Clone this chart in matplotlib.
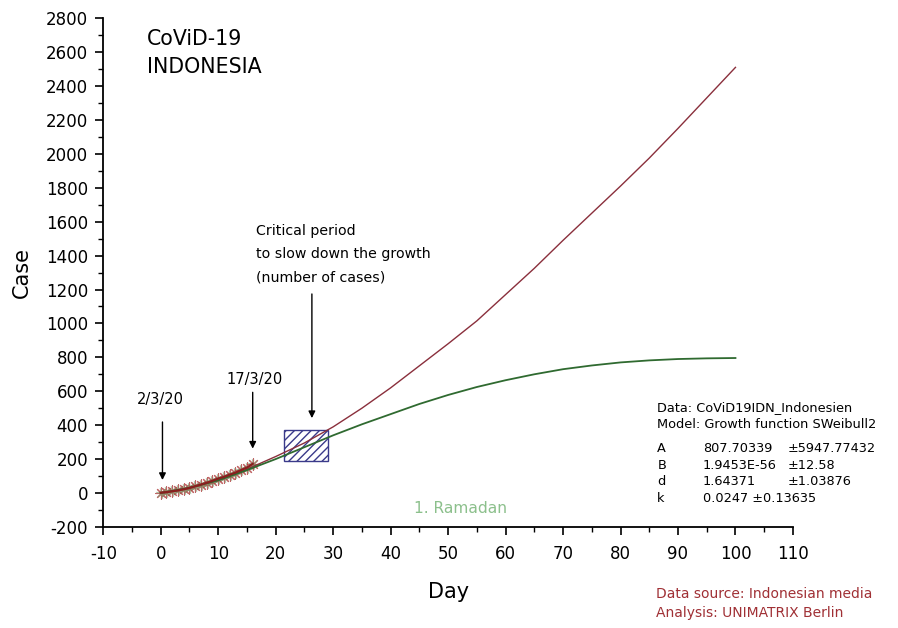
import numpy as np
import matplotlib.pyplot as plt
from matplotlib.patches import Rectangle
from matplotlib.ticker import MultipleLocator

plt.rcParams['font.family'] = ['DejaVu Sans']
plt.rcParams['axes.unicode_minus'] = False

# fitted curves
days_fit = [0, 5, 10, 15, 20, 25, 30, 35, 40, 45, 50, 55, 60, 65, 70, 75, 80, 85, 90, 95, 100]
red_fit = [0, 30, 75, 140, 215, 295, 390, 500, 620, 750, 880, 1015, 1170, 1325, 1490,
           1650, 1810, 1975, 2150, 2330, 2510]
green_fit = [0, 30, 75, 135, 200, 270, 340, 405, 465, 525, 578, 625, 665, 700, 730,
             752, 770, 782, 790, 794, 796]

# observed cases (stars)
days_obs = [0, 1, 2, 3, 4, 5, 6, 7, 8, 9, 10, 11, 12, 13, 14, 15, 16]
cases_obs = [2, 5, 10, 15, 22, 30, 40, 50, 60, 72, 85, 95, 108, 120, 135, 150, 172]

# fit parameter table
param_names = ['A', 'B', 'd', 'k']
param_vals = ['807.70339', '1.9453E-56', '1.64371', '0.0247 \u00b10.13635']
param_errs = ['\u00b15947.77432', '\u00b112.58', '\u00b11.03876', '']

fig = plt.figure(figsize=(8.98, 6.28), dpi=100)
ax = fig.add_axes([0.115, 0.161, 0.768, 0.81])

ax.plot(days_fit, red_fit, color='#8a2f3c', lw=1.0)
ax.plot(days_fit, green_fit, color='#2f6a30', lw=1.3)
ax.plot(days_obs, cases_obs, color='#8a1e1e', lw=1.6)
ax.scatter(days_obs, cases_obs, marker=(8, 2, 0), s=70, color='#b04040', lw=0.8, alpha=0.8)
ax.scatter(days_obs, cases_obs, marker=(6, 2, 15), s=50, color='#7aa070', lw=0.6, alpha=0.6)

# critical period box
ax.add_patch(Rectangle((21.4, 190), 7.7, 182, facecolor='none', edgecolor='#3a3a8a',
                       hatch='////', lw=1.0))

arrow = dict(arrowstyle='-|>', color='black', lw=1.0, mutation_scale=10)
ax.annotate('', xy=(0.3, 60), xytext=(0.3, 435), arrowprops=arrow)
ax.text(0, 550, '2/3/20', ha='center', va='center', fontsize=10.5)
ax.annotate('', xy=(16, 245), xytext=(16, 610), arrowprops=arrow)
ax.text(16.3, 672, '17/3/20', ha='center', va='center', fontsize=10.5)
ax.annotate('', xy=(26.3, 425), xytext=(26.3, 1190), arrowprops=arrow)
crit_lines = ['Critical period', 'to slow down the growth', '(number of cases)']
for i, line in enumerate(crit_lines):
    ax.text(16.5, 1545 - i * 137, line, ha='left', va='center', fontsize=10.2)

ax.text(-2.4, 2678, 'CoViD-19', ha='left', va='center', fontsize=14.8)
ax.text(-2.4, 2513, 'INDONESIA', ha='left', va='center', fontsize=14.8)
ax.text(44.0, -90, '1. Ramadan', ha='left', va='center', fontsize=11.2, color='#8cc08c')

# fit parameters
ax.text(86.4, 501, 'Data: CoViD19IDN_Indonesien', ha='left', va='center', fontsize=9.3)
ax.text(86.4, 401, 'Model: Growth function SWeibull2', ha='left', va='center', fontsize=9.3)
for i in range(len(param_names)):
    yv = 260 - i * 97
    ax.text(86.4, yv, param_names[i], ha='left', va='center', fontsize=9.3)
    ax.text(94.3, yv, param_vals[i], ha='left', va='center', fontsize=9.3)
    ax.text(109.0, yv, param_errs[i], ha='left', va='center', fontsize=9.3)

fig.text(0.731, 0.054, 'Data source: Indonesian media', ha='left', va='center',
         fontsize=10, color='#a03035')
fig.text(0.731, 0.024, 'Analysis: UNIMATRIX Berlin', ha='left', va='center',
         fontsize=10, color='#a03035')

ax.set_xlim(-10, 110)
ax.set_ylim(-200, 2800)
ax.xaxis.set_major_locator(MultipleLocator(10))
ax.xaxis.set_minor_locator(MultipleLocator(5))
ax.yaxis.set_major_locator(MultipleLocator(200))
ax.yaxis.set_minor_locator(MultipleLocator(100))
ax.tick_params(which='major', length=6, width=1.2, labelsize=12)
ax.tick_params(axis='x', which='major', pad=7)
ax.tick_params(axis='y', which='major', pad=5)
ax.tick_params(which='minor', length=3.5, width=1.0)
ax.spines['top'].set_visible(False)
ax.spines['right'].set_visible(False)
ax.spines['left'].set_linewidth(1.3)
ax.spines['bottom'].set_linewidth(1.3)

ax.set_xlabel('Day', fontsize=15, labelpad=14)
ax.set_ylabel('Case', fontsize=15, labelpad=10)

plt.savefig('out.png', dpi=100)
